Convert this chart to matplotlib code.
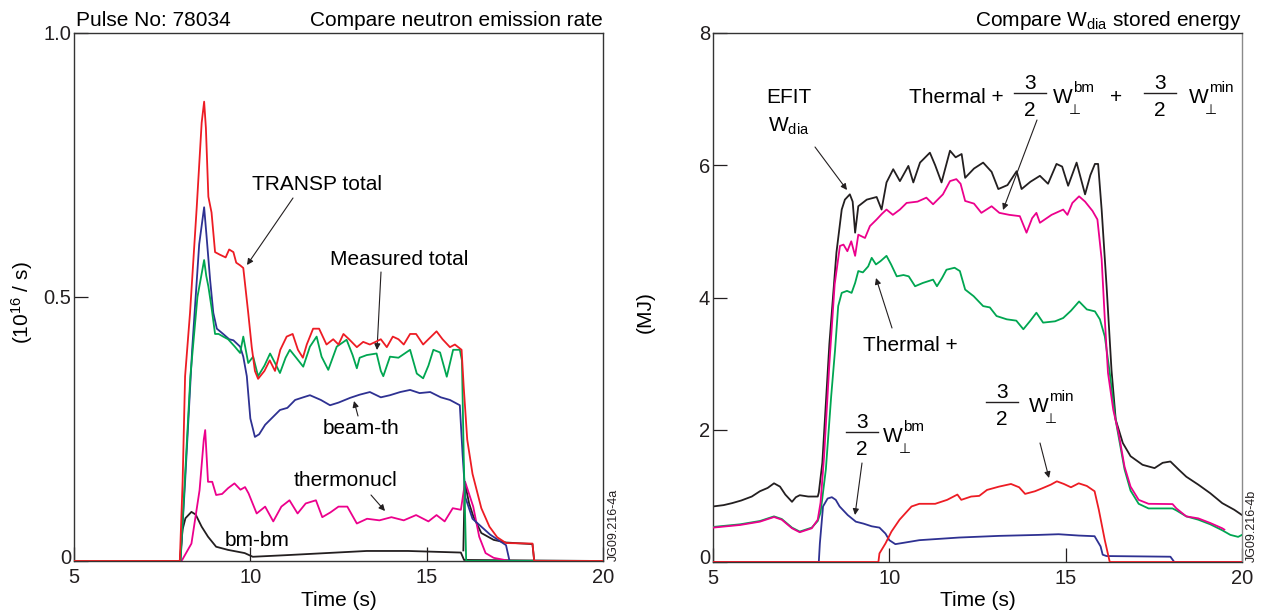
import matplotlib
matplotlib.use("Agg")
import matplotlib.pyplot as plt
from matplotlib.lines import Line2D
from matplotlib.transforms import ScaledTranslation

plt.rcParams['font.family'] = ['Liberation Sans', 'DejaVu Sans']
plt.rcParams['mathtext.fontset'] = 'custom'
plt.rcParams['mathtext.rm'] = 'Liberation Sans'
plt.rcParams['mathtext.it'] = 'Liberation Sans'
plt.rcParams['mathtext.sf'] = 'Liberation Sans'
plt.rcParams['mathtext.bf'] = 'Liberation Sans:bold'

# ---------------- data: left panel (neutron emission rate, 1e16/s) ----------------
left_transp_total = [(5.0, 0), (8.0, 0), (8.08, 0.15), (8.15, 0.35), (8.29, 0.47), (8.48, 0.67),
    (8.62, 0.83), (8.69, 0.87), (8.74, 0.82), (8.81, 0.69), (8.9, 0.66), (9.0, 0.585),
    (9.14, 0.58), (9.3, 0.575), (9.4, 0.59), (9.52, 0.585), (9.6, 0.565), (9.71, 0.56),
    (9.8, 0.555), (9.94, 0.47), (10.04, 0.405), (10.13, 0.36), (10.22, 0.345), (10.4, 0.36),
    (10.55, 0.38), (10.7, 0.36), (10.85, 0.40), (11.03, 0.425), (11.2, 0.43), (11.35, 0.40),
    (11.49, 0.385), (11.6, 0.41), (11.78, 0.44), (11.95, 0.44), (12.16, 0.41), (12.35, 0.42),
    (12.5, 0.41), (12.64, 0.43), (12.8, 0.42), (13.02, 0.405), (13.2, 0.415), (13.39, 0.41),
    (13.55, 0.415), (13.7, 0.42), (13.87, 0.405), (14.04, 0.425), (14.2, 0.42), (14.35, 0.41),
    (14.53, 0.43), (14.7, 0.43), (14.9, 0.41), (15.05, 0.42), (15.28, 0.435), (15.45, 0.42),
    (15.66, 0.405), (15.8, 0.41), (15.99, 0.40), (16.05, 0.33), (16.15, 0.23), (16.3, 0.165),
    (16.55, 0.10), (16.78, 0.065), (17.0, 0.045), (17.25, 0.034), (18.0, 0.033), (18.05, 0.0),
    (20.0, 0.0)]

left_measured_total = [(5.0, 0), (8.02, 0), (8.1, 0.1), (8.3, 0.35), (8.5, 0.5), (8.69, 0.57),
    (8.75, 0.54), (8.81, 0.52), (8.9, 0.48), (9.0, 0.43), (9.1, 0.43), (9.23, 0.425),
    (9.37, 0.42), (9.56, 0.406), (9.71, 0.394), (9.8, 0.425), (9.94, 0.375), (10.08, 0.387),
    (10.22, 0.35), (10.4, 0.37), (10.56, 0.393), (10.7, 0.375), (10.84, 0.356), (11.0, 0.385),
    (11.12, 0.40), (11.3, 0.385), (11.5, 0.368), (11.69, 0.406), (11.88, 0.425), (12.02, 0.387),
    (12.21, 0.362), (12.45, 0.406), (12.73, 0.419), (12.9, 0.39), (13.02, 0.365), (13.1, 0.385),
    (13.3, 0.39), (13.58, 0.393), (13.7, 0.36), (13.77, 0.35), (13.96, 0.387), (14.2, 0.385),
    (14.53, 0.40), (14.72, 0.355), (14.9, 0.346), (15.05, 0.37), (15.19, 0.40), (15.38, 0.395),
    (15.57, 0.349), (15.75, 0.40), (15.94, 0.40), (16.0, 0.38), (16.05, 0.2), (16.12, 0.0),
    (20.0, 0.0)]

left_beam_th = [(5.0, 0), (8.02, 0), (8.15, 0.15), (8.35, 0.4), (8.55, 0.6), (8.69, 0.67),
    (8.76, 0.614), (8.86, 0.532), (8.95, 0.47), (9.05, 0.44), (9.23, 0.43), (9.4, 0.42),
    (9.52, 0.418), (9.71, 0.406), (9.8, 0.387), (9.9, 0.35), (10.0, 0.27), (10.13, 0.235),
    (10.25, 0.24), (10.42, 0.258), (10.6, 0.27), (10.84, 0.286), (11.05, 0.29), (11.27, 0.305),
    (11.5, 0.31), (11.69, 0.314), (12.0, 0.305), (12.26, 0.295), (12.5, 0.30), (12.83, 0.309),
    (13.1, 0.315), (13.39, 0.32), (13.7, 0.31), (13.96, 0.314), (14.25, 0.32), (14.53, 0.324),
    (14.8, 0.318), (15.1, 0.32), (15.4, 0.31), (15.66, 0.305), (15.94, 0.295), (16.02, 0.2),
    (16.1, 0.12), (16.3, 0.08), (16.8, 0.05), (17.25, 0.03), (17.35, 0.0), (20.0, 0.0)]

left_thermonucl = [(5.0, 0), (8.05, 0), (8.33, 0.033), (8.56, 0.134), (8.68, 0.23), (8.72, 0.248),
    (8.8, 0.15), (8.92, 0.15), (9.03, 0.125), (9.2, 0.127), (9.37, 0.138), (9.55, 0.147),
    (9.72, 0.135), (9.85, 0.14), (9.95, 0.128), (10.18, 0.09), (10.42, 0.103), (10.65, 0.075),
    (10.88, 0.103), (11.11, 0.115), (11.34, 0.09), (11.57, 0.109), (11.86, 0.115), (12.04, 0.083),
    (12.27, 0.092), (12.5, 0.103), (12.75, 0.103), (13.02, 0.071), (13.31, 0.08), (13.66, 0.077),
    (14.0, 0.083), (14.35, 0.077), (14.7, 0.087), (15.05, 0.075), (15.28, 0.087), (15.51, 0.075),
    (15.74, 0.10), (15.97, 0.097), (16.09, 0.15), (16.32, 0.103), (16.49, 0.046), (16.67, 0.015),
    (16.9, 0.006), (17.36, 0.0), (20.0, 0.0)]

left_bm_bm = [(5.0, 0), (8.0, 0), (8.08, 0.06), (8.16, 0.081), (8.33, 0.093), (8.45, 0.088),
    (8.62, 0.065), (8.8, 0.046), (9.03, 0.027), (9.37, 0.021), (9.84, 0.015), (10.07, 0.008),
    (11.0, 0.011), (12.15, 0.015), (13.3, 0.019), (14.47, 0.019), (15.97, 0.016), (16.06, 0.002),
    (20.0, 0.0)]

left_black_tail = [(16.04, 0.02), (16.08, 0.15), (16.2, 0.11), (16.32, 0.085), (16.55, 0.053),
    (16.9, 0.04), (17.25, 0.035), (18.0, 0.032), (18.05, 0.0)]

# ---------------- data: right panel (stored energy, MJ) ----------------
right_efit = [(5.0, 0.84), (5.3, 0.86), (5.54, 0.89), (5.8, 0.93), (6.1, 0.99), (6.33, 1.07),
    (6.55, 1.12), (6.73, 1.19), (6.9, 1.14), (7.05, 1.02), (7.24, 0.91), (7.35, 0.98),
    (7.46, 1.01), (7.7, 0.99), (7.97, 0.99), (8.0, 1.05), (8.1, 1.5), (8.3, 3.3), (8.5, 4.68),
    (8.65, 5.33), (8.74, 5.48), (8.88, 5.56), (8.96, 5.45), (9.03, 4.98), (9.12, 5.38),
    (9.36, 5.48), (9.64, 5.52), (9.78, 5.33), (9.92, 5.74), (10.11, 5.94), (10.3, 5.76),
    (10.54, 5.99), (10.68, 5.74), (10.87, 6.04), (11.15, 6.19), (11.3, 6.0), (11.48, 5.74),
    (11.72, 6.22), (11.88, 6.12), (12.05, 6.17), (12.15, 5.81), (12.4, 5.95), (12.66, 6.04),
    (12.9, 5.9), (13.09, 5.64), (13.35, 5.7), (13.61, 5.91), (13.75, 5.64), (14.0, 5.75),
    (14.27, 5.84), (14.5, 5.72), (14.74, 6.02), (14.9, 5.98), (15.07, 5.69), (15.31, 6.04),
    (15.55, 5.56), (15.7, 5.85), (15.83, 6.02), (15.92, 6.02), (16.02, 5.33), (16.16, 4.17),
    (16.3, 2.9), (16.42, 2.15), (16.62, 1.80), (16.84, 1.60), (17.18, 1.47), (17.52, 1.42),
    (17.75, 1.50), (17.97, 1.52), (18.2, 1.40), (18.42, 1.29), (18.76, 1.17), (19.1, 1.04),
    (19.44, 0.89), (19.78, 0.79), (20.0, 0.71)]

right_total_model = [(5.0, 0.52), (5.77, 0.56), (6.33, 0.61), (6.73, 0.68), (6.95, 0.64),
    (7.24, 0.51), (7.46, 0.45), (7.8, 0.51), (7.97, 0.64), (8.05, 0.9), (8.15, 1.6), (8.3, 3.0),
    (8.45, 4.2), (8.6, 4.78), (8.7, 4.8), (8.81, 4.70), (8.92, 4.85), (9.03, 4.63), (9.12, 4.95),
    (9.31, 4.90), (9.45, 5.08), (9.64, 5.18), (9.78, 5.26), (9.92, 5.33), (10.1, 5.25),
    (10.3, 5.33), (10.49, 5.43), (10.8, 5.45), (11.05, 5.51), (11.24, 5.41), (11.52, 5.56),
    (11.72, 5.76), (11.9, 5.79), (12.02, 5.72), (12.15, 5.46), (12.4, 5.42), (12.61, 5.28),
    (12.9, 5.38), (13.12, 5.28), (13.4, 5.25), (13.7, 5.23), (13.89, 4.98), (14.05, 5.2),
    (14.17, 5.28), (14.27, 5.13), (14.6, 5.25), (14.93, 5.33), (15.05, 5.25), (15.19, 5.43),
    (15.38, 5.53), (15.55, 5.45), (15.76, 5.31), (15.9, 5.18), (16.02, 4.58), (16.11, 3.67),
    (16.2, 2.86), (16.35, 2.3), (16.5, 1.95), (16.67, 1.44), (16.84, 1.14), (17.07, 0.94),
    (17.35, 0.88), (18.03, 0.876), (18.14, 0.81), (18.42, 0.69), (18.76, 0.66), (19.1, 0.59),
    (19.44, 0.51), (19.5, 0.49)]

right_thermal_plus = [(5.0, 0.53), (5.77, 0.57), (6.33, 0.62), (6.73, 0.69), (6.95, 0.65),
    (7.24, 0.52), (7.46, 0.46), (7.8, 0.52), (7.97, 0.62), (8.05, 0.75), (8.2, 1.4), (8.35, 2.5),
    (8.46, 3.2), (8.55, 3.87), (8.65, 4.07), (8.8, 4.1), (8.93, 4.07), (9.03, 4.22), (9.12, 4.40),
    (9.25, 4.38), (9.4, 4.47), (9.5, 4.60), (9.62, 4.50), (9.75, 4.55), (9.92, 4.63),
    (10.05, 4.5), (10.21, 4.32), (10.4, 4.34), (10.55, 4.32), (10.73, 4.17), (10.95, 4.22),
    (11.24, 4.27), (11.35, 4.17), (11.5, 4.3), (11.62, 4.42), (11.85, 4.45), (12.0, 4.4),
    (12.15, 4.12), (12.39, 4.02), (12.66, 3.87), (12.85, 3.85), (13.04, 3.72), (13.33, 3.67),
    (13.6, 3.65), (13.8, 3.52), (14.0, 3.65), (14.17, 3.77), (14.36, 3.62), (14.7, 3.64),
    (14.93, 3.69), (15.15, 3.8), (15.38, 3.94), (15.6, 3.82), (15.83, 3.79), (15.97, 3.67),
    (16.11, 3.41), (16.25, 2.86), (16.4, 2.2), (16.5, 1.9), (16.67, 1.40), (16.84, 1.08),
    (17.07, 0.88), (17.35, 0.81), (18.03, 0.81), (18.14, 0.78), (18.42, 0.69), (18.76, 0.64),
    (19.1, 0.57), (19.44, 0.48), (19.67, 0.41), (19.89, 0.38), (20.0, 0.41)]

right_wperp_bm = [(5.0, 0), (8.0, 0), (8.03, 0.28), (8.12, 0.84), (8.25, 0.96), (8.37, 0.98),
    (8.48, 0.94), (8.59, 0.84), (8.82, 0.71), (9.05, 0.61), (9.27, 0.58), (9.5, 0.54),
    (9.72, 0.52), (9.89, 0.43), (10.0, 0.33), (10.17, 0.27), (10.4, 0.29), (10.85, 0.33),
    (11.98, 0.37), (13.11, 0.395), (14.24, 0.41), (14.8, 0.42), (15.37, 0.40), (15.82, 0.39),
    (15.99, 0.236), (16.05, 0.11), (16.16, 0.09), (17.97, 0.08), (18.08, 0.0), (20.0, 0.0)]

right_wperp_min = [(5.0, 0), (9.69, 0), (9.72, 0.13), (9.89, 0.28), (10.06, 0.46), (10.29, 0.64),
    (10.63, 0.84), (10.85, 0.88), (11.3, 0.88), (11.64, 0.94), (11.93, 1.02), (12.04, 0.94),
    (12.32, 0.99), (12.55, 1.0), (12.77, 1.09), (13.11, 1.14), (13.45, 1.18), (13.68, 1.13),
    (13.85, 1.03), (14.13, 1.07), (14.36, 1.12), (14.58, 1.17), (14.75, 1.22), (14.95, 1.18),
    (15.15, 1.13), (15.37, 1.19), (15.6, 1.15), (15.82, 1.07), (15.94, 0.79), (16.11, 0.33),
    (16.25, 0.0), (20.0, 0.0)]

x_ticks = [5, 10, 15, 20]
left_yticks = [0, 0.5, 1.0]
left_yticklabels = ["0", "0.5", "1.0"]
right_yticks = [0, 2, 4, 6, 8]

RED = '#ed1c24'
GREEN = '#00a651'
BLUE = '#2e3192'
MAG = '#ec008c'
BLK = '#231f20'
LW = 1.3
FS = 15
TFS = 14.5
SFS = 11

W, H = 1265, 616
fig = plt.figure(figsize=(W / 100, H / 100), dpi=100)
ax1 = fig.add_axes([74 / W, 1 - 561 / H, 529 / W, 528 / H])
ax2 = fig.add_axes([713 / W, 1 - 562 / H, 529 / W, 529 / H])


def plot_series(ax, pts, color, z=2):
    xs = [p[0] for p in pts]
    ys = [p[1] for p in pts]
    ax.plot(xs, ys, color=color, lw=LW, zorder=z, solid_joinstyle='round')


# left panel
plot_series(ax1, left_bm_bm, BLK, 2)
plot_series(ax1, left_black_tail, BLK, 2)
plot_series(ax1, left_thermonucl, MAG, 3)
plot_series(ax1, left_beam_th, BLUE, 3)
plot_series(ax1, left_measured_total, GREEN, 4)
plot_series(ax1, left_transp_total, RED, 5)

# right panel
plot_series(ax2, right_efit, BLK, 2)
plot_series(ax2, right_thermal_plus, GREEN, 3)
plot_series(ax2, right_total_model, MAG, 4)
plot_series(ax2, right_wperp_bm, BLUE, 5)
plot_series(ax2, right_wperp_min, RED, 5)

for ax in (ax1, ax2):
    ax.set_xlim(5, 20)
    ax.set_xticks(x_ticks)
    ax.set_xticklabels([str(t) for t in x_ticks])
    ax.tick_params(axis='both', direction='in', length=10, width=0.9, colors=BLK,
                   labelsize=TFS, top=False, right=False)
    ax.tick_params(axis='x', pad=5)
    ax.tick_params(axis='y', pad=2)
    for s in ax.spines.values():
        s.set_color('#333333')
        s.set_linewidth(1.0)

ax1.set_ylim(0, 1.0)
ax1.set_yticks(left_yticks)
ax1.set_yticklabels(left_yticklabels)
ax2.set_ylim(0, 8)
ax2.set_yticks(right_yticks)
ax2.set_yticklabels([str(v) for v in right_yticks])
ax2.spines['right'].set_color('#8a8a8a')

# raise the "0" labels slightly
for ax in (ax1, ax2):
    lab = ax.get_yticklabels()[0]
    lab.set_transform(lab.get_transform() + ScaledTranslation(0, 0.05, fig.dpi_scale_trans))

# axis labels
ax1.text(0.5, -0.074, "Time (s)", transform=ax1.transAxes, ha='center', va='center', fontsize=FS)
ax2.text(0.5, -0.072, "Time (s)", transform=ax2.transAxes, ha='center', va='center', fontsize=FS)
ax1.text(-0.098, 0.49, r"(10$^{16}$ / s)", transform=ax1.transAxes, ha='center', va='center',
         rotation=90, fontsize=FS)
ax2.text(-0.129, 0.473, "(MJ)", transform=ax2.transAxes, ha='center', va='center',
         rotation=90, fontsize=FS)

# titles above axes
ax1.text(0.004, 1 + 7 / 528, "Pulse No: 78034", transform=ax1.transAxes, ha='left',
         va='baseline', fontsize=FS)
ax1.text(1.0, 1 + 7 / 528, "Compare neutron emission rate", transform=ax1.transAxes,
         ha='right', va='baseline', fontsize=FS)
ax2.text(1.0, 1 + 7 / 529, r"Compare W$_{\mathrm{dia}}$ stored energy", transform=ax2.transAxes,
         ha='right', va='baseline', fontsize=FS)

# figure ids
ax1.text(1.021, 0.0, "JG09.216-4a", transform=ax1.transAxes, rotation=90, ha='center',
         va='bottom', fontsize=9, color=BLK)
ax2.text(1.019, 0.0, "JG09.216-4b", transform=ax2.transAxes, rotation=90, ha='center',
         va='bottom', fontsize=9, color=BLK)

ARW = dict(arrowstyle='-|>', color=BLK, lw=0.8, mutation_scale=9, shrinkA=0, shrinkB=0)


def lpx(x, y):
    """left panel pixel -> data"""
    return (5 + (x - 74) / 529 * 15, (561 - y) / 528)


def rpx(x, y):
    """right panel pixel -> data"""
    return (5 + (x - 713) / 529 * 15, (562 - y) / 529 * 8)


def frac_w(ax, xbar, ybar, barlen, wgap, sup):
    """draws  3/2 W_perp^sup  with the fraction bar starting at pixel (xbar, ybar)"""
    xc = xbar + barlen / 2
    ax.text(*rpx(xc, ybar - 4), "3", ha='center', va='baseline', fontsize=FS)
    ax.text(*rpx(xc, ybar + 23), "2", ha='center', va='baseline', fontsize=FS)
    x0, y0 = rpx(xbar, ybar)
    x1, _ = rpx(xbar + barlen, ybar)
    ax.add_line(Line2D([x0, x1], [y0, y0], color=BLK, lw=1.0, clip_on=False))
    wl = xbar + barlen + wgap
    ax.text(*rpx(wl, ybar + 10), "W", ha='left', va='baseline', fontsize=FS)
    ax.text(*rpx(wl + 16, ybar + 21), "\u22a5", ha='left', va='baseline', fontsize=SFS - 1)
    ax.text(*rpx(wl + 20, ybar - 1), sup, ha='left', va='baseline', fontsize=SFS)


# left annotations
ax1.text(*lpx(252, 190), "TRANSP total", ha='left', va='baseline', fontsize=FS)
ax1.annotate("", xy=lpx(247, 265), xytext=lpx(293, 198), arrowprops=ARW)
ax1.text(*lpx(330, 265), "Measured total", ha='left', va='baseline', fontsize=FS)
ax1.annotate("", xy=lpx(377, 350), xytext=lpx(381, 272), arrowprops=ARW)
ax1.text(*lpx(323, 434), "beam-th", ha='left', va='baseline', fontsize=FS)
ax1.annotate("", xy=lpx(354, 401), xytext=lpx(358, 416), arrowprops=ARW)
ax1.text(*lpx(294, 486), "thermonucl", ha='left', va='baseline', fontsize=FS)
ax1.annotate("", xy=lpx(385, 511), xytext=lpx(371, 495), arrowprops=ARW)
ax1.text(*lpx(225, 546), "bm-bm", ha='left', va='baseline', fontsize=FS)

# right annotations
ax2.text(*rpx(789, 103), "EFIT", ha='center', va='baseline', fontsize=FS)
ax2.text(*rpx(789, 132), r"W$_{\mathrm{dia}}$", ha='center', va='baseline', fontsize=FS)
ax2.annotate("", xy=rpx(847, 190), xytext=rpx(815, 147), arrowprops=ARW)

ax2.text(*rpx(909, 103), "Thermal +", ha='left', va='baseline', fontsize=FS)
frac_w(ax2, 1014, 93, 32, 7, "bm")
ax2.text(*rpx(1116, 103), "+", ha='center', va='baseline', fontsize=FS)
frac_w(ax2, 1144, 93, 32, 13, "min")
ax2.annotate("", xy=rpx(1003, 210), xytext=rpx(1037, 120), arrowprops=ARW)

ax2.text(*rpx(910, 351), "Thermal +", ha='center', va='baseline', fontsize=FS)
ax2.annotate("", xy=rpx(876, 278), xytext=rpx(892, 328), arrowprops=ARW)

frac_w(ax2, 846, 432, 32, 5, "bm")
ax2.annotate("", xy=rpx(855, 515), xytext=rpx(862, 463), arrowprops=ARW)

frac_w(ax2, 986, 402, 32, 11, "min")
ax2.annotate("", xy=rpx(1049, 478), xytext=rpx(1040, 443), arrowprops=ARW)

fig.savefig("out.png", dpi=100)
